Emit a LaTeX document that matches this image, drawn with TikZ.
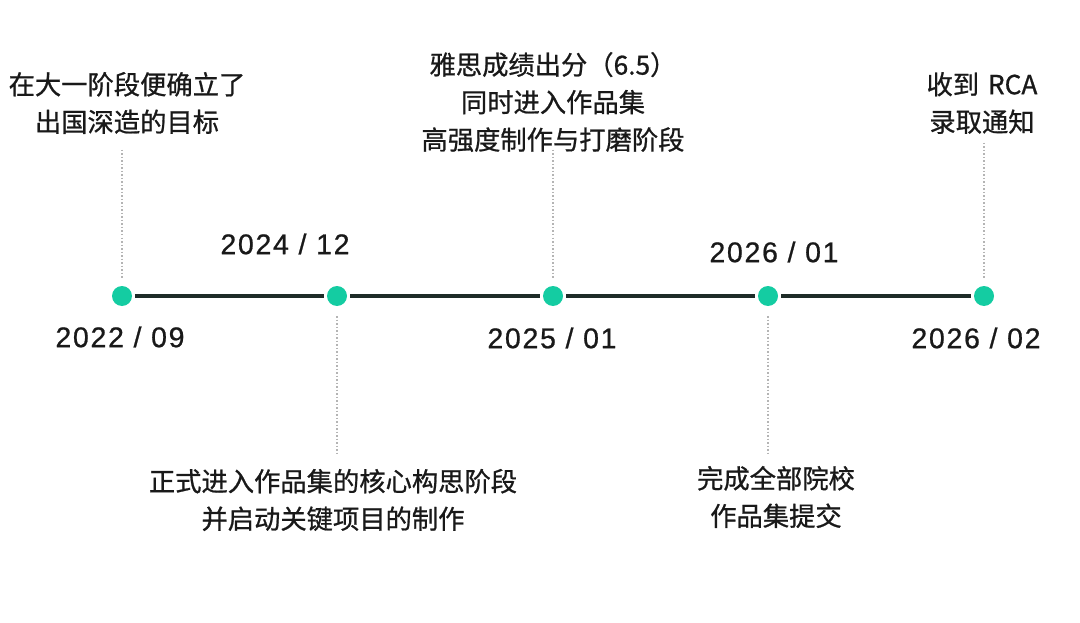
\documentclass[tikz,border=0pt]{standalone}
\usepackage{fontspec}
\setmainfont{Noto Sans CJK SC}[FakeBold=0.8]
\newfontfamily\datefont{Liberation Sans}[LetterSpace=6, FakeBold=0.7]
\usetikzlibrary{positioning}
\definecolor{tlTeal}{RGB}{20,204,162}
\definecolor{tlDark}{RGB}{30,44,40}
\definecolor{tlGray}{RGB}{180,180,180}
\definecolor{tlText}{RGB}{25,25,25}
\tikzset{
    base/.style={align=center, text=tlText, inner sep=0pt},
    milestone/.style={circle, fill=tlTeal, inner sep=0pt, minimum size=20pt},
    date/.style={base, font=\datefont\fontsize{28.5}{30}\selectfont},
    note/.style={base, font=\fontsize{26.3}{37.5}\selectfont},
    track/.style={line width=4pt, color=tlDark, shorten <=3pt, shorten >=3pt},
    guide/.style={line width=1.3pt, color=tlGray, dash pattern=on 1.5pt off 2pt}
}
\begin{document}
\begin{tikzpicture}[x=1pt, y=-1pt]
  \useasboundingbox[fill=white] (0,0) rectangle (1080,623);

  % Milestones on the track
  \foreach \i/\x in {1/122, 2/337, 3/553, 4/768, 5/984} {
    \node[milestone] (d\i) at (\x,296) {};
  }
  \foreach \a/\b in {1/2, 2/3, 3/4, 4/5} {
    \draw[track] (d\a) -- (d\b);
  }

  % Dates
  \node[date] (y1) at (120,337) {2022 / 09};
  \node[date] (y2) at (285,244) {2024 / 12};
  \node[date] (y3) at (552,338) {2025 / 01};
  \node[date] (y4) at (774,252) {2026 / 01};
  \node[date] (y5) at (976,338) {2026 / 02};

  % Notes above the track
  \node[note] (n1) at (127,103) {在大一阶段便确立了\\出国深造的目标};
  \node[note] (n3) at (553,102) {雅思成绩出分（6.5）\\同时进入作品集\\高强度制作与打磨阶段};
  \node[note] (n5) at (982,103) {收到\,\,RCA\\录取通知};

  % Notes below the track
  \node[note] (n2) at (333,500) {正式进入作品集的核心构思阶段\\并启动关键项目的制作};
  \node[note] (n4) at (776,497) {完成全部院校\\作品集提交};

  % Dotted guides
  \coordinate (g1) at (122,150);
  \coordinate (g3) at (553,150);
  \coordinate (g5) at (984,143);
  \coordinate (g2) at (337,456);
  \coordinate (g4) at (768,454);
  \draw[guide] (g1) -- ([yshift=8pt]d1.north);
  \draw[guide] (g3) -- ([yshift=8pt]d3.north);
  \draw[guide] (g5) -- ([yshift=8pt]d5.north);
  \draw[guide] ([yshift=-10pt]d2.south) -- (g2);
  \draw[guide] ([yshift=-10pt]d4.south) -- (g4);
\end{tikzpicture}
\end{document}
